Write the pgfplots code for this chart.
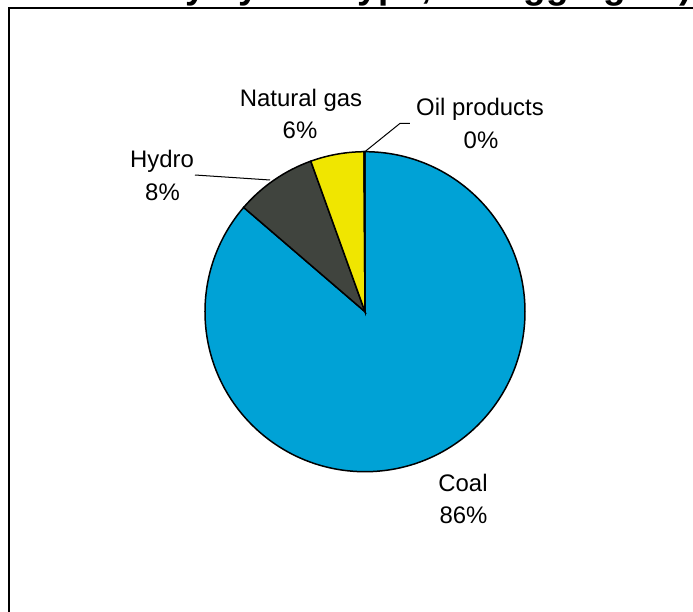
\documentclass[border=0pt]{standalone}
\usepackage{fontspec}
\setmainfont{Liberation Sans}
\usepackage{pgfplots}
\pgfplotsset{compat=1.18}
\usepackage{pgfplotstable}
\definecolor{coalblue}{RGB}{0,162,214}
\definecolor{hydrogray}{RGB}{64,68,62}
\definecolor{gasyellow}{RGB}{240,230,0}
\pgfplotstableread{
label value
Coal 86.3
Hydro 8.2
Gas 5.4
Oil 0.1
}\piedata
\pgfplotstablegetelem{0}{value}\of\piedata\let\vcoal\pgfplotsretval
\pgfplotstablegetelem{1}{value}\of\piedata\let\vhydro\pgfplotsretval
\pgfplotstablegetelem{2}{value}\of\piedata\let\vgas\pgfplotsretval
\pgfplotstablegetelem{3}{value}\of\piedata\let\voil\pgfplotsretval
\pgfmathsetmacro{\aone}{90-3.6*\vcoal}
\pgfmathsetmacro{\atwo}{\aone-3.6*\vhydro}
\pgfmathsetmacro{\athree}{\atwo-3.6*\vgas}
\pgfmathsetmacro{\afour}{\athree-3.6*\voil}
\begin{document}
\begin{tikzpicture}
\begin{axis}[at={(0,0)}, anchor=south west, scale only axis,
  x=1bp, y=1bp, xmin=0, xmax=346.5, ymin=0, ymax=306,
  hide axis, clip=false]
% frame
\draw[line width=1bp] (axis cs:4.5,-20) -- (axis cs:4.5,301.9) -- (axis cs:370,301.9);
% title (mostly cut off by the page edge, as in the reference)
\node[anchor=base east, inner sep=0, font=\bfseries\fontsize{18.5}{22}\selectfont]
  at (axis cs:346,306.6) {Generation of electricity by fuel type, EU aggregate)};
% pie
\def\cx{182.5}\def\cy{150.15}
\filldraw[fill=coalblue, draw=black, line width=0.75bp] (axis cs:\cx,\cy) -- ++(90:80bp) arc[start angle=90, end angle=\aone, radius=80bp] -- cycle;
\filldraw[fill=hydrogray, draw=black, line width=0.75bp] (axis cs:\cx,\cy) -- ++(\aone:80bp) arc[start angle=\aone, end angle=\atwo, radius=80bp] -- cycle;
\filldraw[fill=gasyellow, draw=black, line width=0.75bp] (axis cs:\cx,\cy) -- ++(\atwo:80bp) arc[start angle=\atwo, end angle=\athree, radius=80bp] -- cycle;
\filldraw[fill=white, draw=black, line width=0.75bp] (axis cs:\cx,\cy) -- ++(\athree:80bp) arc[start angle=\athree, end angle=\afour, radius=80bp] -- cycle;
% leader lines
\draw[line width=0.5bp] (axis cs:182.5,230.2) -- (axis cs:200,244.3) -- (axis cs:205,244.3);
\draw[line width=0.5bp] (axis cs:97.5,218.5) -- (axis cs:135,216);
% labels
\tikzset{lab/.style={anchor=base, inner sep=0, font=\fontsize{12}{14}\selectfont}}
\node[lab] at (axis cs:150.5,252.65) {Natural gas};
\node[lab] at (axis cs:150,236.85) {6\%};
\node[lab] at (axis cs:240,248.5) {Oil products};
\node[lab] at (axis cs:240.5,231.85) {0\%};
\node[lab] at (axis cs:81,222.35) {Hydro};
\node[lab] at (axis cs:81.25,206) {8\%};
\node[lab] at (axis cs:231.5,60.5) {Coal};
\node[lab] at (axis cs:231.75,44.5) {86\%};
\end{axis}
\pgfresetboundingbox
\useasboundingbox (0,0) rectangle (346.5bp,306bp);
\end{tikzpicture}
\end{document}
